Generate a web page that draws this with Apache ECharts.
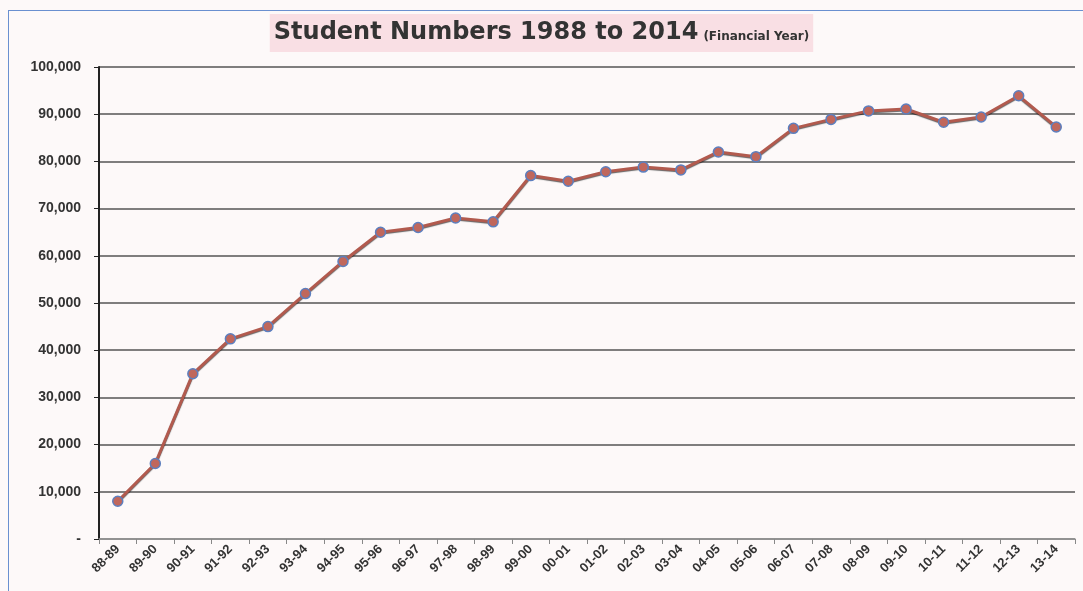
<!DOCTYPE html>
<html>
<head>
<meta charset="utf-8">
<script src="https://cdn.jsdelivr.net/npm/echarts@6/dist/echarts.min.js"></script>
<style>
	html, body { margin: 0; padding: 0; background: #ffffff; }
	#main { width: 1083px; height: 591px; }
	#frame { position: absolute; left: 8px; top: 10px; width: 1075px; height: 581px;
		border-left: 1px solid #6a90d0; border-top: 1px solid #6a90d0; pointer-events: none; }
</style>
</head>
<body>
<div id="main"></div>
<div id="frame"></div>
<script>
// 财年
var years = ["88-89", "89-90", "90-91", "91-92", "92-93", "93-94", "94-95", "95-96", "96-97", "97-98",
	"98-99", "99-00", "00-01", "01-02", "02-03", "03-04", "04-05", "05-06", "06-07", "07-08",
	"08-09", "09-10", "10-11", "11-12", "12-13", "13-14"];
// 学生人数
var students = [8000, 16000, 35000, 42400, 45000, 52000, 58800, 65000, 66000, 68000,
	67200, 77000, 75800, 77800, 78800, 78200, 82000, 81000, 87000, 88900,
	90700, 91100, 88300, 89400, 93900, 87300];

var chart = echarts.init(document.getElementById('main'), null, { renderer: 'canvas' });

var option = {
	backgroundColor: "#fdf9f9",
	animation: false,
	title: {
		text: "{main|Student Numbers 1988 to 2014} {sub|(Financial Year)}",
		left: 'center',
		top: 14,
		backgroundColor: "#f9dfe4",
		padding: [7, 4, 7, 4],
		textStyle: {
			rich: {
				main: {
					fontFamily: "DejaVu Sans",
					fontSize: 24,
					fontWeight: 'bold',
					color: "#333333"
				},
				sub: {
					fontFamily: "DejaVu Sans",
					fontSize: 12,
					fontWeight: 'bold',
					color: "#333333",
					verticalAlign: 'bottom',
					padding: [0, 0, 2, 0]
				}
			}
		}
	},
	grid: {
		left: 99,
		right: 8,
		top: 67,
		bottom: 52
	},
	xAxis: {
		type: 'category',
		data: years,
		boundaryGap: true,
		axisLine: { lineStyle: { color: "#999999", width: 1.5 } },
		axisTick: { show: true, lineStyle: { color: "#888888" } },
		axisLabel: {
			rotate: 45,
			interval: 0,
			fontFamily: "Liberation Sans",
			fontSize: 13,
			fontWeight: 'bold',
			color: "#333333",
			margin: 8
		}
	},
	yAxis: {
		type: 'value',
		min: 0,
		max: 100000,
		interval: 10000,
		axisLine: { show: true, lineStyle: { color: "#222222", width: 2 } },
		axisTick: { show: true, lineStyle: { color: "#222222" } },
		axisLabel: {
			fontFamily: "Liberation Sans",
			fontSize: 14,
			fontWeight: 'bold',
			color: "#333333",
			margin: 18,
			formatter: function(v) {
				return v === 0 ? '-' : v.toLocaleString('en-US');
			}
		},
		splitLine: { lineStyle: { color: "#555555", width: 1.5 } }
	},
	series: [{
		type: 'line',
		data: students,
		symbol: 'circle',
		symbolSize: 10,
		lineStyle: {
			color: "#b25a4e",
			width: 3,
			shadowColor: "rgba(0,0,0,0.6)",
			shadowBlur: 1,
			shadowOffsetY: 1
		},
		itemStyle: {
			color: "#c0675c",
			borderColor: "#5c7fbf",
			borderWidth: 1.5
		}
	}]
};

chart.setOption(option);
</script>
</body>
</html>
